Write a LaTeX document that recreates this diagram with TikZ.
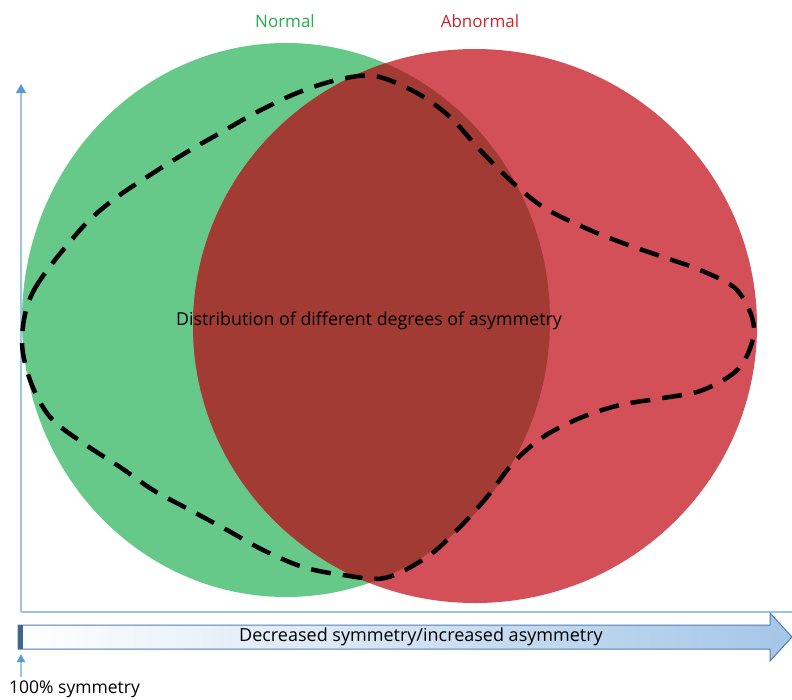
\documentclass[tikz,border=0pt]{standalone}
\usepackage{fontspec}
\setmainfont{Open Sans}
\usetikzlibrary{arrows.meta,calc}

\definecolor{normalgreen}{RGB}{102,201,138}
\definecolor{normaltext}{RGB}{34,174,80}
\definecolor{abnormalred}{RGB}{212,80,89}
\definecolor{abnormaltext}{RGB}{205,35,45}
\definecolor{overlapred}{RGB}{162,59,52}
\definecolor{axisblue}{RGB}{157,195,230}
\definecolor{tipblue}{RGB}{91,155,213}
\definecolor{arrowedge}{RGB}{80,126,180}
\definecolor{arrowfill}{RGB}{165,198,232}

\tikzset{
  axisline/.style={draw=axisblue, line width=1.5pt},
  labeltext/.style={font=\fontsize{17}{20}\selectfont, inner sep=0pt},
  distcurve/.style={black, line width=4.5pt, dash pattern=on 20pt off 12pt}
}

\begin{document}
\begin{tikzpicture}[x=1pt,y=-1pt]
\useasboundingbox (0,0) rectangle (792,699);
\coordinate (O) at (21,612);
\coordinate (ytop) at (21,84);
\coordinate (xend) at (792,612);
% the two groups
\fill[normalgreen] (286,320) ellipse [x radius=264, y radius=277];
\fill[abnormalred] (475,326) ellipse [x radius=282, y radius=277];
\begin{scope}
\clip (286,320) ellipse [x radius=264, y radius=277];
\fill[overlapred] (475,326) ellipse [x radius=282, y radius=277];
\end{scope}
% axes
\draw[axisline] (O) -- (xend);
\draw[axisline, -{Triangle[length=9pt,width=10pt,color=tipblue]}] (O) -- (ytop);
% distribution
\draw[distcurve] plot[smooth cycle, tension=0.55] coordinates {
  (22,338) (34,290) (80,230) (113,200) (150,175) (187,152) (220,133)
  (257,112) (297,93) (337,80) (375,76) (417,93) (450,117) (480,150) (510,180)
  (543,207) (583,227) (620,242) (663,257) (700,270) (737,290) (754,328)
  (740,367) (703,390) (663,398) (620,405) (580,418) (543,437) (513,463)
  (487,497) (457,530) (427,557) (385,578) (343,575) (303,567) (263,550)
  (227,530) (190,510) (153,490) (120,467) (83,443) (50,417) (30,380)};
\node[labeltext, font=\fontsize{17.8}{21}\selectfont] (dist) at (369,321) {Distribution of different degrees of asymmetry};
% titles
\node[labeltext, text=normaltext] (normal) at (285,21) {Normal};
\node[labeltext, text=abnormaltext] (abnormal) at (480,21) {Abnormal};
% scale arrow
\shade[left color=white, right color=arrowfill, draw=arrowedge, line width=1pt]
  (18,625) -- (770,625) -- (770,613) -- (792,637) -- (770,661) -- (770,649)
  -- (18,649) -- cycle;
\fill[arrowedge!80!black] (18,625) rectangle (23,649);
\node[labeltext, font=\fontsize{18}{21}\selectfont] (scale) at (421,637) {Decreased symmetry/increased asymmetry};
\node[labeltext, font=\fontsize{17.5}{20}\selectfont, anchor=west] (sym) at (9,689) {100\% symmetry};
\coordinate (symtip) at (21,654);
\draw[axisline, -{Triangle[length=8pt,width=8pt,color=tipblue]}] (21,677) -- (symtip);
\end{tikzpicture}
\end{document}
